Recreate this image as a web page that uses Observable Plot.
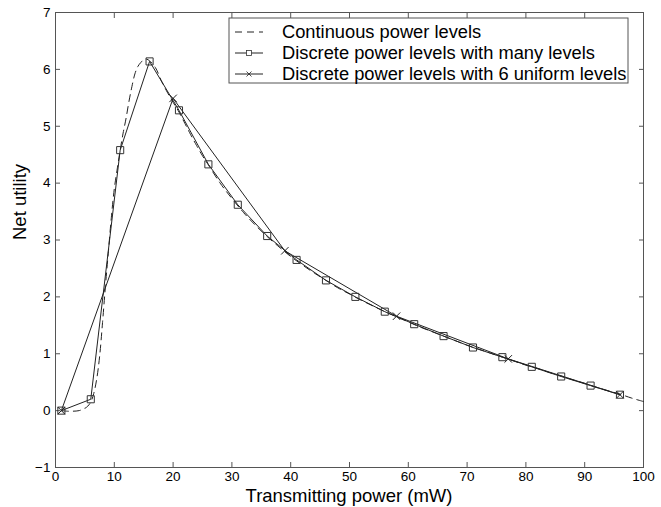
<!DOCTYPE html>
<html><head><meta charset="utf-8">
<script src="https://cdn.jsdelivr.net/npm/d3@7"></script>
<script src="https://cdn.jsdelivr.net/npm/@observablehq/plot@0.6"></script>
<style>body{margin:0;background:#fff} svg{display:block}</style>
</head><body><div id="chart"></div>
<script>
const xTicks = [0,10,20,30,40,50,60,70,80,90,100];
const yTicks = [-1,0,1,2,3,4,5,6,7];
const xLabel = "Transmitting power (mW)";
const yLabel = "Net utility";
const seriesNames = ["Continuous power levels","Discrete power levels with many levels","Discrete power levels with 6 uniform levels"];

const manyX = [1,6,11,16,21,26,31,36,41,46,51,56,61,66,71,76,81,86,91,96];
const manyY = [0,0.2,4.58,6.14,5.28,4.33,3.62,3.07,2.65,2.29,2.0,1.74,1.52,1.31,1.11,0.94,0.77,0.60,0.44,0.28];

const uniformX = [1,20,39,58,77,96];
const uniformY = [0,5.49,2.81,1.66,0.91,0.28];

const contX = [1,2,3,4,5,5.5,6,6.5,7,7.5,8,8.5,9,9.5,10,10.5,11,11.5,12,12.5,13,13.5,14,14.5,15,15.5,16,17,18,19,20,21,22,23,24,25,26,28,30,32,34,36,38,40,42,44,46,48,50,52,54,56,58,60,62,64,66,68,70,72,74,76,78,80,82,84,86,88,90,92,94,96,98,100];
const contY = [0,-0.01,-0.01,0,0.04,0.08,0.15,0.3,0.55,0.95,1.55,2.2,2.8,3.4,3.9,4.25,4.58,4.88,5.14,5.44,5.7,5.92,6.05,6.12,6.17,6.18,6.15,6.03,5.8,5.6,5.42,5.25,5.05,4.85,4.66,4.48,4.32,4.0,3.73,3.48,3.26,3.06,2.88,2.71,2.56,2.42,2.29,2.16,2.05,1.94,1.84,1.74,1.65,1.56,1.47,1.39,1.31,1.23,1.15,1.08,1.01,0.94,0.87,0.80,0.74,0.67,0.61,0.54,0.48,0.41,0.35,0.29,0.22,0.16];

const cont = contX.map((x,i)=>({x, y: contY[i]}));
const many = manyX.map((x,i)=>({x, y: manyY[i]}));
const uni = uniformX.map((x,i)=>({x, y: uniformY[i]}));

const axisColor = "#555";
const lineColor = "#222";
const blank = () => "";

const plot = Plot.plot({
  width: 661, height: 507,
  marginLeft: 55, marginRight: 18, marginTop: 12, marginBottom: 40,
  style: {fontFamily: "'Liberation Sans', Arial, sans-serif", fontSize: "13.5px", color: "#000", background: "#fff"},
  x: {domain: [0,100]},
  y: {domain: [-1,7]},
  marks: [
    Plot.frame({stroke: axisColor, strokeWidth: 1}),
    // inward ticks on all four sides
    Plot.axisX(xTicks, {anchor: "bottom", tickSize: 5, dy: -5, tickFormat: blank, stroke: axisColor, label: null}),
    Plot.axisX(xTicks, {anchor: "top", tickSize: 5, dy: 5, tickFormat: blank, stroke: axisColor, label: null}),
    Plot.axisY(yTicks, {anchor: "left", tickSize: 5, dx: 5, tickFormat: blank, stroke: axisColor, label: null}),
    Plot.axisY(yTicks, {anchor: "right", tickSize: 5, dx: -5, tickFormat: blank, stroke: axisColor, label: null}),
    // tick labels
    Plot.axisX(xTicks, {anchor: "bottom", tickSize: 0, tickPadding: 4, label: null, fill: "#000"}),
    Plot.axisY(yTicks, {anchor: "left", tickSize: 0, tickPadding: 5, label: null, fill: "#000", tickFormat: d => d < 0 ? "\u2212" + Math.abs(d) : String(d)}),
    Plot.line(cont, {x: "x", y: "y", stroke: lineColor, strokeWidth: 1, strokeDasharray: "7,5", curve: "catmull-rom"}),
    Plot.line(many, {x: "x", y: "y", stroke: lineColor, strokeWidth: 1}),
    Plot.line(uni, {x: "x", y: "y", stroke: lineColor, strokeWidth: 1}),
    Plot.dot(many, {x: "x", y: "y", symbol: "square", r: 4, stroke: "#333", strokeWidth: 1, fill: "none"}),
    Plot.dot(uni, {x: "x", y: "y", symbol: "times", r: 3.5, stroke: "#222", strokeWidth: 1}),
    Plot.text([yLabel], {frameAnchor: "left", dx: -35, rotate: -90, fontSize: 18.5, fill: "#000"})
  ]
});

const svg = d3.select(plot);
// x-axis title with an explicit baseline
svg.append("text").attr("x", 349).attr("y", 502).attr("text-anchor", "middle")
  .attr("font-size", 18.5).attr("fill", "#000").text(xLabel);

// Legend inside the plot area (top right)
const lg = svg.append("g").attr("class", "legend").attr("text-anchor", "start");
const lx = 229, ly = 18, lw = 399, lh = 65;
lg.append("rect").attr("x", lx).attr("y", ly).attr("width", lw).attr("height", lh)
  .attr("fill", "#fff").attr("stroke", axisColor).attr("stroke-width", 1);
const rowY = [32, 53, 74];
seriesNames.forEach((name, i) => {
  const y = rowY[i];
  const line = lg.append("line").attr("x1", 235).attr("x2", 263).attr("y1", y).attr("y2", y)
    .attr("stroke", lineColor).attr("stroke-width", 1);
  if (i === 0) line.attr("stroke-dasharray", "7,5");
  if (i === 1) lg.append("rect").attr("x", 246.5).attr("y", y - 2.5).attr("width", 5).attr("height", 5)
    .attr("fill", "#fff").attr("stroke", "#333").attr("stroke-width", 0.8);
  if (i === 2) lg.append("path").attr("d", `M${246.5},${y-2.5}L${251.5},${y+2.5}M${246.5},${y+2.5}L${251.5},${y-2.5}`)
    .attr("stroke", "#222").attr("stroke-width", 0.8);
  lg.append("text").attr("x", 282).attr("y", y).attr("dy", "0.35em").attr("text-anchor", "start")
    .attr("font-size", 18.3).attr("fill", "#000").text(name);
});

document.getElementById("chart").appendChild(plot);
</script>
</body></html>
